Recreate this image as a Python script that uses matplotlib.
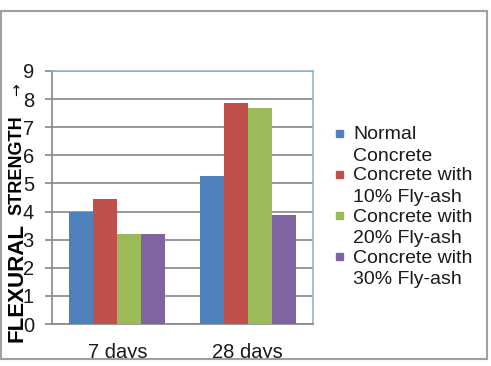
import numpy as np
import matplotlib.pyplot as plt
from matplotlib.patches import Rectangle

plt.rcParams['font.family'] = ['Liberation Sans', 'DejaVu Sans']

# data
categories = ['7 days', '28 days']
series = ['Normal\nConcrete', 'Concrete with\n10% Fly-ash',
          'Concrete with\n20% Fly-ash', 'Concrete with\n30% Fly-ash']
values = [
    [4.0, 5.25],
    [4.45, 7.85],
    [3.2, 7.7],
    [3.2, 3.88],
]
colors = ['#4f81bd', '#c0504d', '#9bbb59', '#8064a2']

W, H = 491, 366
fig = plt.figure(figsize=(W / 100, H / 100), dpi=100)
ax = fig.add_axes([52 / W, 1 - 324 / H, (313 - 52) / W, (324 - 71) / H])

x = np.arange(len(categories))
bw = 0.184
for i, (vals, c) in enumerate(zip(values, colors)):
    ax.bar(x + (i - 1.5) * bw, vals, bw, color=c, zorder=3)

ax.set_xlim(-0.5, 1.5)
ax.set_ylim(0, 9)
ax.set_yticks(range(10))
ax.set_xticks(x)
ax.set_xticklabels(categories, fontsize=14.5, color='#1a1a1a')
ax.tick_params(axis='x', length=0, pad=14)
ax.tick_params(axis='y', length=5, width=1.2, color='#868686', pad=8,
               labelsize=14.5, labelcolor='#1a1a1a')
ax.grid(axis='y', color='#868686', lw=1.2, zorder=0)
for s in ['left', 'bottom']:
    ax.spines[s].set_color('#868686')
    ax.spines[s].set_linewidth(1.2)
for s in ['top', 'right']:
    ax.spines[s].set_color('#95b3d7')
    ax.spines[s].set_linewidth(1.2)

# y axis title pieces
fig.text(17 / W, 1 - 282 / H, 'FLEXURAL', rotation=90, fontsize=16,
         fontweight='bold', ha='center', va='center')
fig.text(17 / W, 1 - 165 / H, 'STRENGTH', rotation=90, fontsize=13,
         fontweight='bold', ha='center', va='center')
fig.text(17 / W, 1 - 90 / H, '\u2192', rotation=90, fontsize=11,
         ha='center', va='center', family=['DejaVu Sans'])

# legend
for i, (name, c) in enumerate(zip(series, colors)):
    yc = 133 + i * 41.3
    fig.patches.append(Rectangle((336 / W, 1 - (yc + 3.5) / H), 7 / W, 7 / H,
                                 transform=fig.transFigure, color=c))
    fig.text(353 / W, 1 - (yc - 7) / H, name, fontsize=14, va='top',
             ha='left', color='#1a1a1a', linespacing=1.35)

# white strip below the chart frame, then frame
fig.patches.append(Rectangle((0, 0), 1, (H - 359) / H, transform=fig.transFigure,
                             color='white', zorder=10))
fig.patches.append(Rectangle((1 / W, 1 - 359 / H), 486 / W, 348 / H,
                             transform=fig.transFigure, fill=False,
                             edgecolor='#a0a0a0', lw=1.5, zorder=11))

fig.savefig('out.png', dpi=100)
